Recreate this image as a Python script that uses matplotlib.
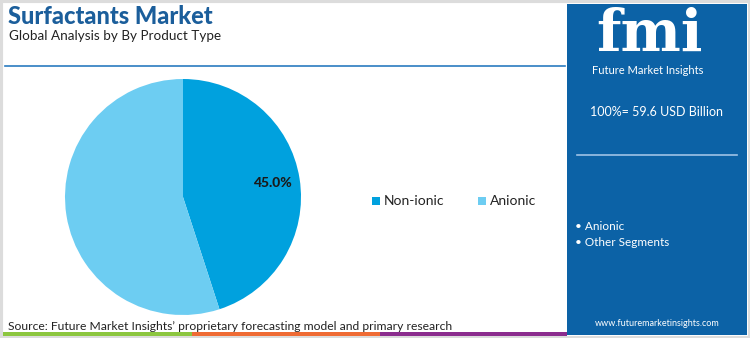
import matplotlib.pyplot as plt
from matplotlib.patches import Rectangle
import numpy as np

# segment shares (%)
segments = ['Non-ionic', 'Anionic']
shares = [45.0, 55.0]
colors = ['#00a1de', '#6dcdf2']
total_label = '100%= 59.6 USD Billion'
side_items = ['Anionic', 'Other Segments']

W, H = 750, 338
plt.rcParams['font.family'] = ['Lato', 'DejaVu Sans']

fig = plt.figure(figsize=(W / 100, H / 100), dpi=100)
bg = fig.add_axes([0, 0, 1, 1])
bg.set_xlim(0, W)
bg.set_ylim(H, 0)
bg.axis('off')

# outer frame
bg.add_patch(Rectangle((0.5, 0.5), W - 1, H - 1, fill=False, ec='#dcdcdc', lw=3))

# right info panel
panel_blue = '#0c62a6'
bg.add_patch(Rectangle((567, 4), 180, 331, color=panel_blue, lw=0))

# bottom colour strip
bg.add_patch(Rectangle((3, 332), 189, 4, color='#8cc63f', lw=0))
bg.add_patch(Rectangle((192, 332), 188, 4, color='#ef6b34', lw=0))
bg.add_patch(Rectangle((380, 332), 187, 4, color='#8b2c8e', lw=0))

# title block
bg.text(8, 17, 'Surfactants Market', fontsize=17, fontweight='black', color='#1b5e9b',
        va='center', ha='left')
bg.text(9, 36, 'Global Analysis by By Product Type', fontsize=9.7, color='#222222',
        va='center', ha='left')
bg.plot([5, 565], [66, 66], color='#2a7cc0', lw=1.2)

# logo
bg.text(649, 35, 'fmi', fontsize=41, fontweight='bold', family='DejaVu Serif',
        color='white', ha='center', va='center')
bg.text(648, 70, 'Future Market Insights', fontsize=8, color='white',
        ha='center', va='center')

# panel text
bg.text(657, 112, total_label, fontsize=9, color='white', ha='center', va='center')
bg.plot([577, 737], [155, 155], color='#9fc3e6', lw=1.2)
for i, item in enumerate(side_items):
    bg.text(575, 227 + i * 16, '\u2022 ' + item, fontsize=8.5, color='white',
            ha='left', va='center')
bg.text(657, 323, 'www.futuremarketinsights.com', fontsize=6.5, color='white',
        ha='center', va='center')

# source note
bg.text(8, 326, 'Source: Future Market Insights\u2019 proprietary forecasting model and primary research',
        fontsize=8.7, color='#222222', ha='left', va='center')

# pie chart
cx, cy, r = 183, 197, 118
ax = fig.add_axes([(cx - r) / W, (H - cy - r) / H, 2 * r / W, 2 * r / H])
wedges, _ = ax.pie(shares, colors=colors, startangle=90, counterclock=False,
                   radius=1, wedgeprops=dict(lw=0))
ax.set_xlim(-1, 1)
ax.set_ylim(-1, 1)
ax.set_aspect('auto')
ax.axis('off')

# value label on the first segment
w = wedges[0]
mid = np.deg2rad((w.theta1 + w.theta2) / 2)
ax.text(0.77 * np.cos(mid), 0.77 * np.sin(mid), f'{shares[0]:.1f}%', fontsize=10,
        fontweight='black', color='#1a1a1a', ha='center', va='center')

# legend
for i, (name, c) in enumerate(zip(segments, colors)):
    x0 = 372 + i * 106
    bg.add_patch(Rectangle((x0, 197), 8, 8, color=c, lw=0))
    bg.text(x0 + 12, 201, name, fontsize=10, color='#222222', ha='left', va='center')

fig.savefig('out.png', dpi=100)
